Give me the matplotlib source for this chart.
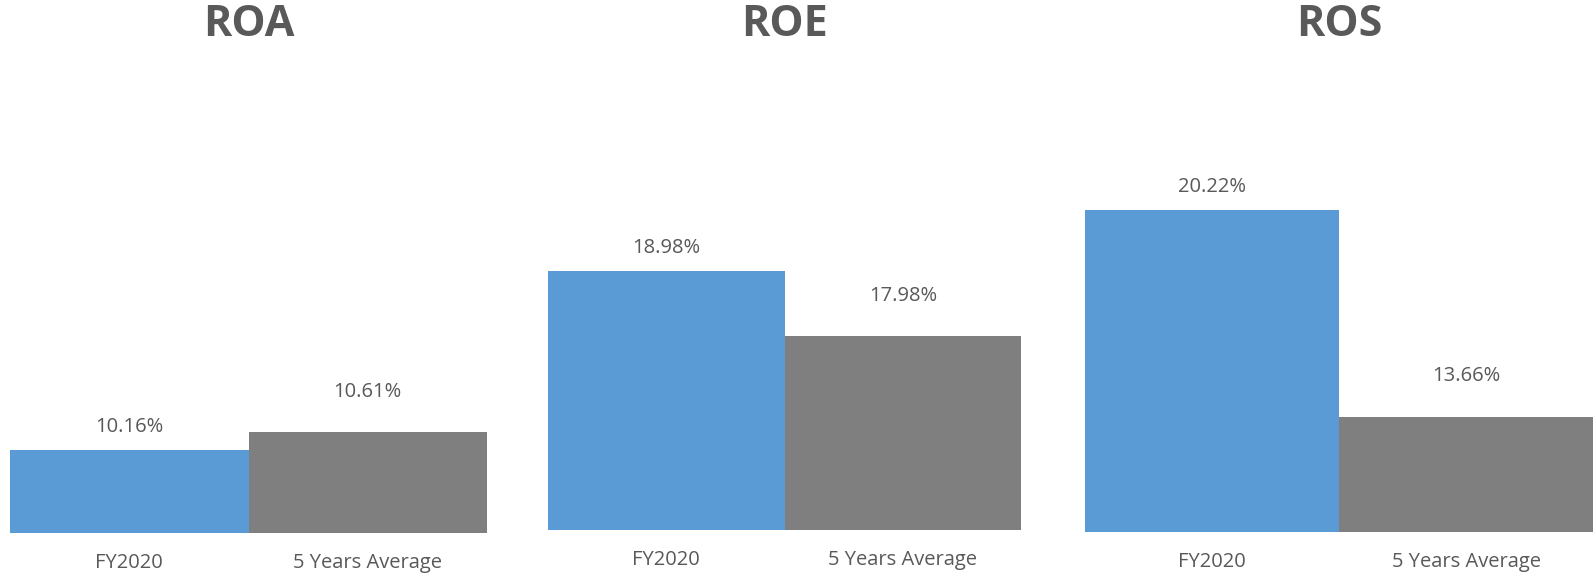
import matplotlib
matplotlib.use("Agg")
from matplotlib import pyplot as plt

# three Excel-style mini charts, each with its own y-axis range
titles = ["ROA", "ROE", "ROS"]
categories = ["FY2020", "5 Years Average"]
fy2020 = [10.16, 18.98, 20.22]
avg_5y = [10.61, 17.98, 13.66]
ymin = [8.1, 15, 10]
ymax = [18.9, 21.6, 23.7]

blue = "#5B9BD5"
grey = "#7F7F7F"
text_col = "#595959"

W, H = 1593, 577
fig = plt.figure(figsize=(W / 100, H / 100), dpi=100)

# panel boxes in pixels: left, right, baseline
boxes = [(10, 487, 533), (548, 1021, 530), (1085, 1593, 532)]
top_px = 100

for i, (x0, x1, base) in enumerate(boxes):
    ax = fig.add_axes([x0 / W, 1 - base / H, (x1 - x0) / W, (base - top_px) / H])
    vals = [fy2020[i], avg_5y[i]]
    ax.bar([0, 1], vals, width=1.0, color=[blue, grey], bottom=0)
    ax.set_xlim(-0.5, 1.5)
    ax.set_ylim(ymin[i], ymax[i])
    for s in ax.spines.values():
        s.set_visible(False)
    ax.set_yticks([])
    ax.set_xticks([0, 1])
    ax.set_xticklabels(categories, fontsize=14.5, color=text_col, family="Open Sans")
    ax.tick_params(axis="x", length=0, pad=14.5)
    # data labels
    offsets = [16.5, 29]
    for j, v in enumerate(vals):
        ax.annotate(f"{v:.2f}%", xy=(j, v), xytext=(0, offsets[j]),
                    textcoords="offset points", ha="center", va="center",
                    fontsize=14.5, color=text_col, family="Open Sans",
                    annotation_clip=False)
    fig.text(((x0 + x1) / 2) / W, 1 - 25 / H, titles[i], ha="center", va="center",
             fontsize=31, fontweight="bold", color=text_col, family="Open Sans")

fig.savefig("out.png", dpi=100, facecolor="white")
